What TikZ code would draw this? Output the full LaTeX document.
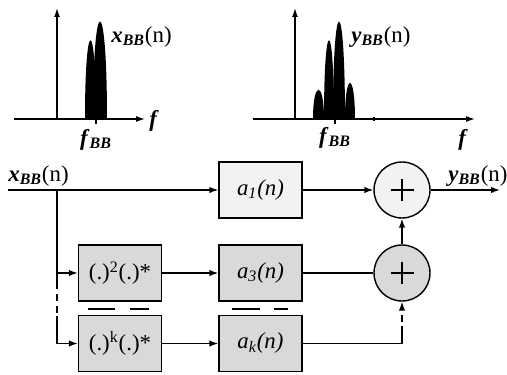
\documentclass[tikz,border=0pt]{standalone}
\usepackage{fontspec}
\setmainfont{Liberation Serif}
\usepackage{xcolor}
\usepackage{tikz}
\usetikzlibrary{arrows.meta, positioning}
\definecolor{paleblock}{HTML}{F2F2F2}
\definecolor{darkblock}{HTML}{D9D9D9}
\newcommand\bbsig[1]{\textbf{\textit{#1}}\textsubscript{\textbf{\textit{BB}}}(n)}
\newcommand\peak[3]{\fill (#1,119) .. controls (#1,{119-1.33*(119-#3)}) and (#2,{119-1.33*(119-#3)}) .. (#2,119) -- cycle;}

\begin{document}
\begin{tikzpicture}[x=0.02cm, y=-0.02cm,
    block/.style={draw, line width=0.8pt, minimum width=1.66cm, minimum height=1.12cm,
                  inner sep=0pt, font=\fontsize{13}{15}\selectfont},
    pale/.style={block, fill=paleblock},
    dark/.style={block, fill=darkblock},
    sum/.style={draw, circle, line width=0.8pt, minimum size=1.12cm, inner sep=0pt,
                path picture={
                  \draw[line width=0.6pt] ([xshift=-0.23cm]path picture bounding box.center)
                    -- ([xshift=0.23cm]path picture bounding box.center);
                  \draw[line width=0.6pt] ([yshift=-0.23cm]path picture bounding box.center)
                    -- ([yshift=0.23cm]path picture bounding box.center);}},
    wire/.style={line width=0.8pt},
    gapdash/.style={dash pattern=on 4pt off 2.8pt},
    arrow/.style={wire, -{Latex[length=1.8mm,width=1.3mm]}},
    axis/.style={line width=0.8pt, -{Latex[length=1.8mm,width=1.2mm]}},
    lbl/.style={font=\fontsize{13}{15}\selectfont, inner sep=0pt}
  ]
    \useasboundingbox (0,0) rectangle (507,375);

    % input spectrum
    \draw[axis] (14,119) -- (145,119);
    \draw[axis] (57,119) -- (57,8);
    \draw[wire] (96,119) -- (96,124);
    \peak{85}{96}{40}
    \peak{93}{107}{21}
    \node[lbl, anchor=west] (xf) at (149,121) {\textbf{\textit{f}}};
    \node[lbl] (xfbb) at (96,140) {\textbf{\textit{f}}\textsubscript{\textbf{\textit{BB}}}};
    \node[lbl, anchor=west] (xspec) at (111,37) {\bbsig{x}};

    % output spectrum
    \draw[axis] (253,119) -- (475,119);
    \draw[axis] (295,119) -- (295,8);
    \draw[wire] (335,119) -- (335,124);
    \draw[wire] (374,117) -- (374,121);
    \peak{313}{324}{90}
    \peak{345}{355}{83}
    \peak{324}{334}{40}
    \peak{333}{345}{21}
    \node[lbl] (yf) at (463,140) {\textbf{\textit{f}}};
    \node[lbl] (yfbb) at (335,138) {\textbf{\textit{f}}\textsubscript{\textbf{\textit{BB}}}};
    \node[lbl, anchor=west] (yspec) at (351,37) {\bbsig{y}};

    % blocks
    \node[pale] (a1) at (260.5,190) {\textit{a\textsubscript{1}(n)}};
    \node[dark] (sq) at (120,273) {(.)\textsuperscript{2}(.)*};
    \node[dark] (a3) at (260.5,273) {\textit{a\textsubscript{3}(n)}};
    \node[dark] (pk) at (120,343.5) {(.)\textsuperscript{k}(.)*};
    \node[dark] (ak) at (260.5,343.5) {\textit{a\textsubscript{k}(n)}};
    \node[sum, fill=paleblock] (s1) at (402,190) {};
    \node[sum, fill=darkblock] (s2) at (402,273) {};

    % signal path
    \coordinate (in) at (8,190);
    \coordinate (br) at (57,190);
    \coordinate (out) at (500,190);
    \node[lbl, anchor=south west] (xin) at (8,187) {\bbsig{x}};
    \node[lbl, anchor=south west] (yout) at (448,187) {\bbsig{y}};
    \draw[arrow] (in) -- (a1.west);
    \draw[arrow] (br) |- (sq.west);
    \draw[wire] (sq.west -| br) -- ++(0,9) coordinate (d1);
    \draw[wire, gapdash] (d1) -- ++(0,34) coordinate (d2);
    \draw[arrow] (d2) |- (pk.west);
    \draw[arrow] (sq) -- (a3);
    \draw[arrow] (pk) -- (ak);
    \draw[arrow] (a1) -- (s1);
    \draw[wire] (a3) -- (s2);
    \draw[arrow] (s2) -- (s1);
    \draw[arrow] (s1) -- (out);
    \coordinate (corner) at (ak.east -| s2.south);
    \draw[wire] (ak.east) -- (corner) -- ++(0,-10) coordinate (d3);
    \draw[arrow, gapdash] (d3) -- (s2.south);

    % gaps between the rows
    \draw[wire] (88,309) -- (115,309) (130,309) -- (149,309);
    \draw[wire] (232,309) -- (260,309) (274,309) -- (288,309);
  \end{tikzpicture}
\end{document}
